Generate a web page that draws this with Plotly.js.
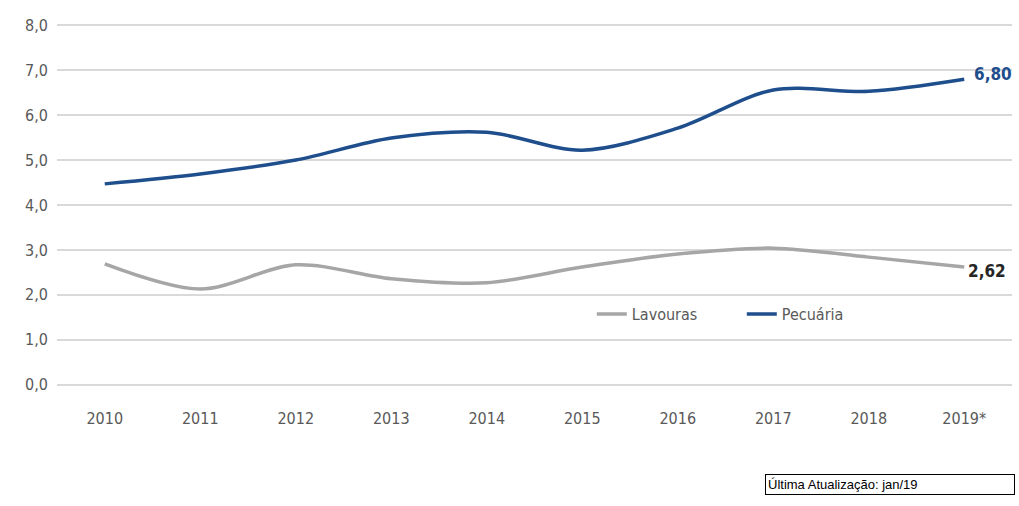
<!DOCTYPE html>
<html><head><meta charset="utf-8">
<script src="https://cdn.plot.ly/plotly-3.0.1.min.js"></script>
<style>html,body{margin:0;padding:0;background:#fff}#c{width:1019px;height:506px}</style>
</head><body><div id="c"></div>
<script>
var years = ['2010','2011','2012','2013','2014','2015','2016','2017','2018','2019*'];
var lavouras = [2.69, 2.13, 2.67, 2.36, 2.27, 2.62, 2.91, 3.04, 2.84, 2.62];
var pecuaria = [4.47, 4.69, 5.00, 5.49, 5.62, 5.22, 5.71, 6.56, 6.53, 6.80];
var font = "'DejaVu Sans Condensed', 'Liberation Sans Narrow', sans-serif";
var traces = [
  {x: years, y: lavouras, name: 'Lavouras', type: 'scatter', mode: 'lines',
   line: {color: '#a6a6a6', width: 3.5, shape: 'spline', smoothing: 0.9}},
  {x: years, y: pecuaria, name: 'Pecuária', type: 'scatter', mode: 'lines',
   line: {color: '#1f4e8c', width: 3.5, shape: 'spline', smoothing: 0.9}}
];
var layout = {
  width: 1019, height: 506,
  margin: {l: 57, r: 7, t: 23, b: 119},
  paper_bgcolor: '#fff', plot_bgcolor: '#fff',
  separators: ',.',
  showlegend: true,
  legend: {orientation: 'h', x: 0.56, y: 0.2, xanchor: 'left', yanchor: 'middle',
           itemwidth: 30, entrywidth: 105, entrywidthmode: 'pixels',
           font: {family: font, size: 16, color: '#595959'}, bgcolor: 'rgba(0,0,0,0)'},
  xaxis: {type: 'category', range: [-0.5, 9.5], showgrid: false, zeroline: false, showline: false,
          ticks: '', ticklabelstandoff: 20, tickfont: {family: font, size: 16, color: '#595959'}},
  yaxis: {range: [-0.05, 8.05], tickvals: [0,1,2,3,4,5,6,7,8], tickformat: '.1f', showgrid: true, gridcolor: '#d9d9d9', gridwidth: 1.5,
          zeroline: false, showline: false, ticks: '', ticklabelstandoff: 8,
          tickfont: {family: font, size: 16, color: '#595959'}},
  annotations: [
    {x: 9, y: pecuaria[9], xref: 'x', yref: 'y', text: '<b>6,80</b>', showarrow: false,
     xanchor: 'left', xshift: 8, yshift: 5, font: {family: font, size: 17, color: '#1f4e8c'}},
    {x: 9, y: lavouras[9], xref: 'x', yref: 'y', text: '<b>2,62</b>', showarrow: false,
     xanchor: 'left', xshift: 2, yshift: -4, font: {family: font, size: 17, color: '#262626'}},
    {x: 1.003, y: -0.297, xref: 'paper', yref: 'paper', xanchor: 'right', yanchor: 'bottom',
     text: 'Última Atualização: jan/19', showarrow: false, bordercolor: '#000', borderwidth: 1,
     borderpad: 2, bgcolor: '#fff', width: 244, align: 'left',
     font: {family: 'Liberation Sans, Arial, sans-serif', size: 13, color: '#000'}}
  ]
};
Plotly.newPlot('c', traces, layout, {displayModeBar: false});
</script></body></html>
